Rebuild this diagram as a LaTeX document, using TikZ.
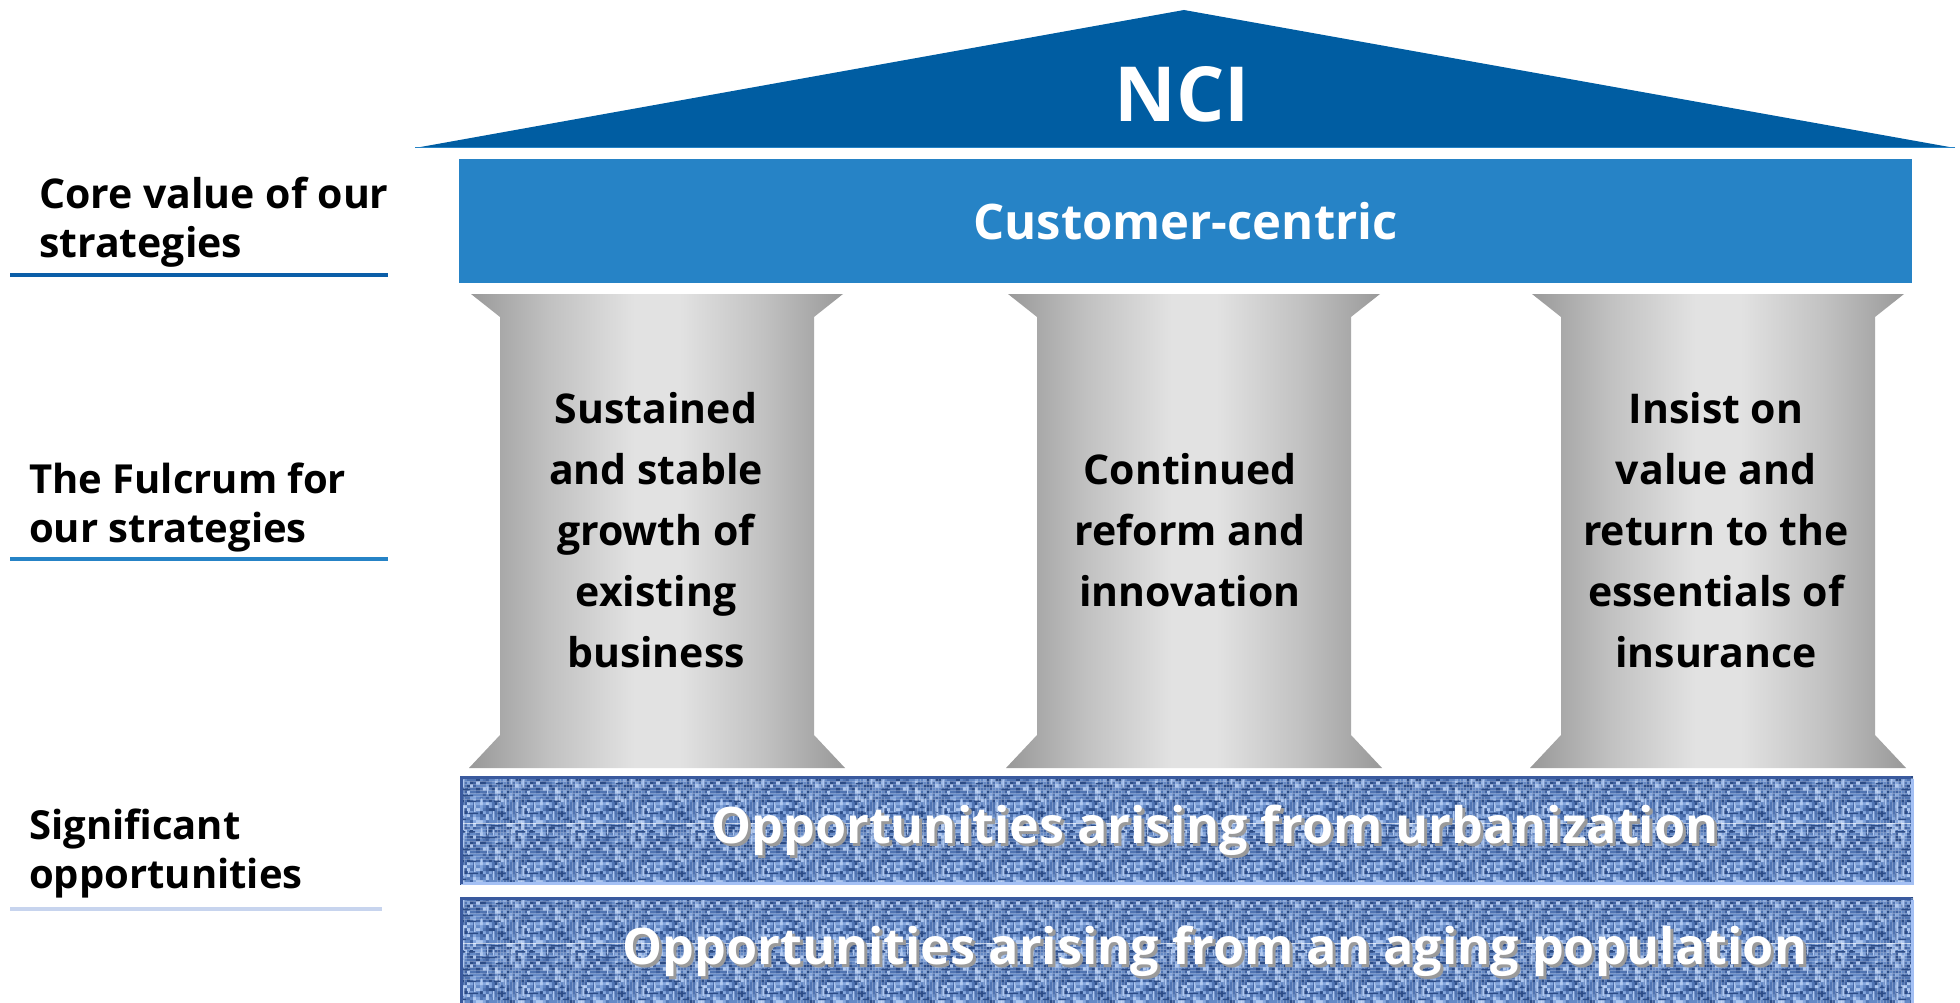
\documentclass[tikz,border=0pt]{standalone}
\usepackage{fontspec}
\setmainfont{Open Sans}
\usetikzlibrary{patterns}

\definecolor{roofblue}{HTML}{005DA2}
\definecolor{coreblue}{HTML}{2683C6}
\definecolor{ruleone}{HTML}{0B5EA8}
\definecolor{ruletwo}{HTML}{2683C6}
\definecolor{rulethree}{HTML}{C7D4EE}
\definecolor{pg0}{HTML}{999999}
\definecolor{pg1}{HTML}{C2C2C2}
\definecolor{pg2}{HTML}{E2E2E2}
\definecolor{cv0}{HTML}{2B4B86}
\definecolor{cv1}{HTML}{3F61A0}
\definecolor{cv2}{HTML}{5074B2}
\definecolor{cv3}{HTML}{6489C6}
\definecolor{cv4}{HTML}{84A6DD}
\definecolor{cv5}{HTML}{AFC8F0}
\definecolor{edgedark}{HTML}{3A5A9E}
\definecolor{edgelight}{HTML}{A4C0F4}
\definecolor{shadowgray}{HTML}{9A9A9A}

% grey metal look of the columns (the path maps onto 25bp..75bp)
\pgfdeclarehorizontalshading{pillarshade}{100bp}{%
  color(0bp)=(pg0); color(25bp)=(pg0); color(36bp)=(pg1); color(47bp)=(pg2);
  color(53bp)=(pg2); color(64bp)=(pg1); color(75bp)=(pg0); color(100bp)=(pg0)}

% woven blue canvas tile
\pgfdeclarepatterninherentlycolored{canvas}
  {\pgfpointorigin}{\pgfqpoint{60pt}{60pt}}{\pgfqpoint{60pt}{60pt}}
  {%
    \pgfmathsetseed{11}%
    \foreach \i in {0,...,19}{%
      \foreach \j in {0,...,19}{%
        \pgfmathrandominteger{\r}{0}{7}%
        \ifcase\r\relax \pgfsetfillcolor{cv0}\or\pgfsetfillcolor{cv1}\or
          \pgfsetfillcolor{cv2}\or\pgfsetfillcolor{cv2}\or
          \pgfsetfillcolor{cv3}\or\pgfsetfillcolor{cv3}\or
          \pgfsetfillcolor{cv4}\else\pgfsetfillcolor{cv5}\fi
        \pgfpathrectangle{\pgfpoint{3pt*\i}{3pt*\j}}{\pgfqpoint{3pt}{3pt}}%
        \pgfusepath{fill}%
      }%
    }%
    % light warp threads
    \pgfsetfillcolor{cv5}%
    \foreach \i in {0,...,9}{%
      \foreach \k in {1,2}{%
        \pgfmathrandominteger{\yy}{0}{50}%
        \pgfmathrandominteger{\ll}{4}{10}%
        \pgfpathrectangle{\pgfpoint{6pt*\i+1pt}{\yy pt}}{\pgfpoint{1.5pt}{\ll pt}}%
        \pgfusepath{fill}%
      }%
    }%
    % dark weft threads
    \pgfsetfillcolor{cv0}%
    \foreach \j in {0,...,9}{%
      \foreach \k in {1,2}{%
        \pgfmathrandominteger{\xx}{0}{50}%
        \pgfmathrandominteger{\ll}{4}{10}%
        \pgfpathrectangle{\pgfpoint{\xx pt}{6pt*\j+3pt}}{\pgfpoint{\ll pt}{1.5pt}}%
        \pgfusepath{fill}%
      }%
    }%
  }

\tikzset{
  sidelabel/.style={anchor=west, align=left, inner sep=0pt,
    font={\fontsize{40}{49}\selectfont\bfseries}},
  pillartext/.style={align=center, inner sep=0pt,
    font={\fontsize{41}{61}\selectfont\bfseries}},
  corebox/.style={fill=coreblue, text=white, minimum width=1453pt,
    minimum height=124pt, inner sep=0pt,
    font={\fontsize{49}{55}\selectfont\bfseries}},
  bandtext/.style={text=white, inner sep=0pt,
    font={\fontsize{50.3}{60}\selectfont\bfseries}},
  bandshadow/.style={bandtext, text=shadowgray, xshift=3pt, yshift=-3pt},
  pillarbody/.style={shading=pillarshade}
}

\newcommand{\column}[1]{%
  \shade[pillarbody]
    (#1-186,294) -- (#1+186,294) -- (#1+157,317) -- (#1+157,735)
    -- (#1+188,768) -- (#1-188,768) -- (#1-157,735) -- (#1-157,317) -- cycle;}

\begin{document}
\begin{tikzpicture}[x=1pt,y=-1pt]
  \useasboundingbox (0,0) rectangle (1960,1003);

  % roof
  \fill[roofblue] (415,148) -- (1184,10) -- (1955,148) -- cycle;
  \draw[coreblue, line width=1.5pt] (415,147.5) -- (1955,147.5);
  \node[text=white, inner sep=0pt, font={\fontsize{76}{80}\selectfont\bfseries}]
    (nci) at (1182,94) {NCI};

  % core value beam
  \node[corebox] (core) at (1185.5,221) {Customer-centric};

  % columns
  \column{657}
  \column{1194}
  \column{1718}

  \node[pillartext] (p1) at (656,530)
    {Sustained\\and stable\\growth of\\existing\\business};
  \node[pillartext] (p2) at (1190,530)
    {Continued\\reform and\\innovation};
  \node[pillartext] (p3) at (1716,530)
    {Insist on\\value and\\return to the\\essentials of\\insurance};

  % foundation bands
  \fill[pattern=canvas] (460,776) rectangle (1913,884);
  \draw[edgedark, line width=3pt] (461.5,884) -- (461.5,777.5) -- (1911,777.5);
  \draw[edgelight, line width=3pt] (1912,779) -- (1912,883) -- (463,883);

  \fill[pattern=canvas] (460,897) rectangle (1913,1003);
  \draw[edgedark, line width=3pt] (461.5,1003) -- (461.5,898.5) -- (1911,898.5);
  \draw[edgelight, line width=3pt] (1912,900) -- (1912,1003);

  \coordinate (u) at (1215,830);
  \coordinate (a) at (1215,951);
  \node[bandshadow] (ushadow) at (u) {Opportunities arising from urbanization};
  \node[bandtext] (utext) at (u) {Opportunities arising from urbanization};
  \node[bandshadow] (ashadow) at (a) {Opportunities arising from an aging population};
  \node[bandtext] (atext) at (a) {Opportunities arising from an aging population};

  % side labels
  \node[sidelabel, font={\fontsize{41}{49}\selectfont\bfseries}] (l1) at (39,222)
    {Core value of our\\strategies};
  \draw[ruleone, line width=4pt] (10,275) -- (388,275);
  \node[sidelabel] (l2) at (29,507) {The Fulcrum for\\our strategies};
  \draw[ruletwo, line width=4pt] (10,559) -- (388,559);
  \node[sidelabel] (l3) at (29,853) {Significant\\opportunities};
  \draw[rulethree, line width=4pt] (10,909) -- (382,909);
\end{tikzpicture}
\end{document}
